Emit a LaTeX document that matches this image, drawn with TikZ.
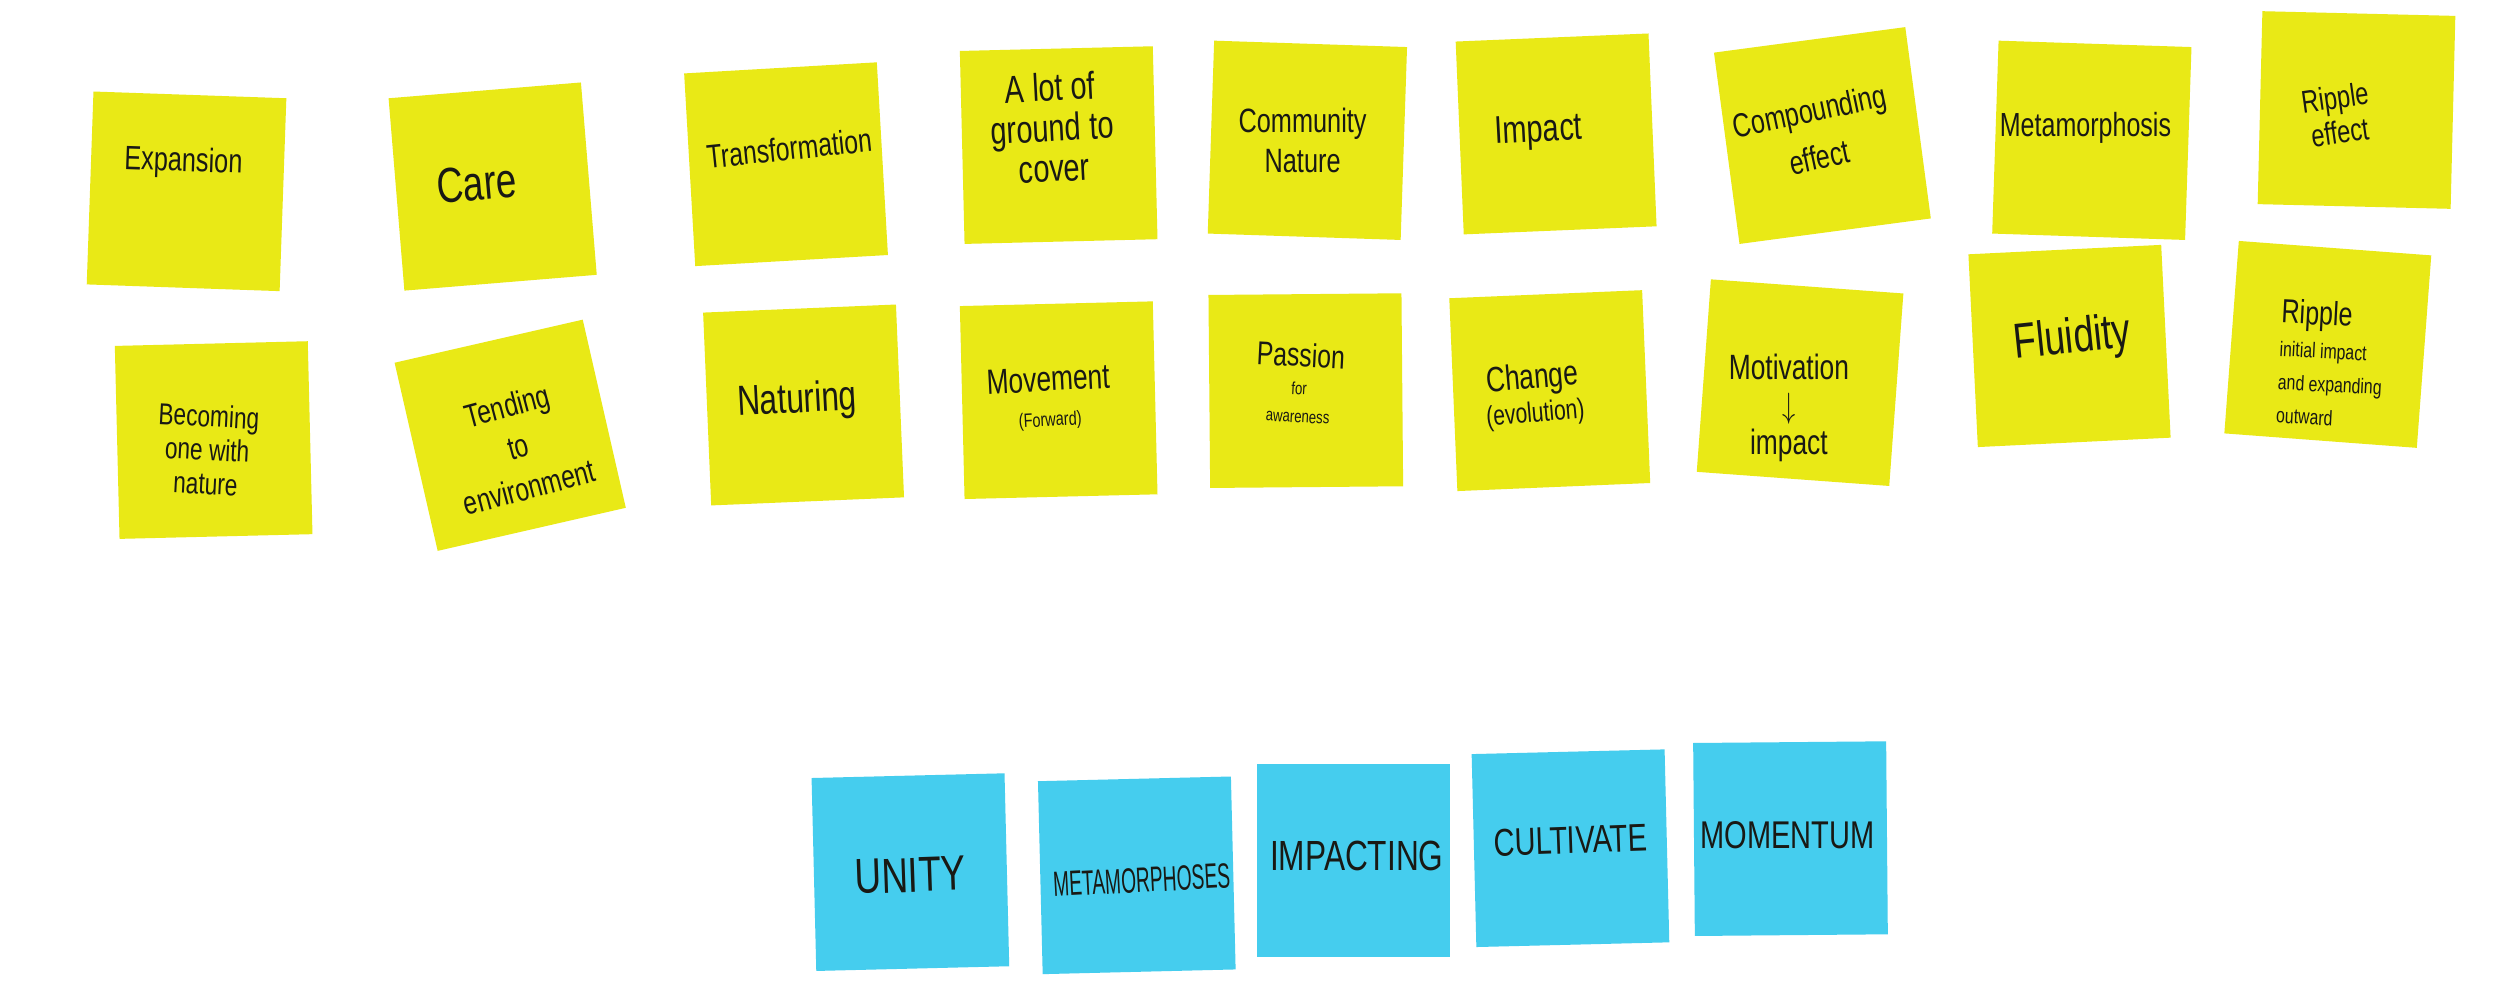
\documentclass[tikz,border=0pt]{standalone}
\usepackage{fontspec}
\setmainfont{Liberation Sans}
\usepackage{tikz}
\definecolor{postit}{RGB}{233,233,22}
\definecolor{postitblue}{RGB}{69,205,238}
\definecolor{ink}{RGB}{25,25,20}

\begin{document}
\begin{tikzpicture}[x=0.15944mm, y=-0.15944mm,
        note/.style={fill=postit, minimum size=19.3mm, inner sep=0pt},
        bluenote/.style={note, fill=postitblue},
        hand/.style={text=ink, xscale=0.75, align=center, inner sep=0pt}]
        \fill[white] (0, 0) rectangle (1568, 626);
        \useasboundingbox (0, 0) rectangle (1568, 626);

        \node[note, rotate=-2](Y1) at (117, 120) {};
        \node[note, rotate=4.7](Y2) at (309, 117) {};
        \node[note, rotate=3.3](Y3) at (493, 103) {};
        \node[note, rotate=1.4](Y4) at (664, 91) {};
        \node[note, rotate=-1.9](Y5) at (820, 88) {};
        \node[note, rotate=2.4](Y6) at (976, 84) {};
        \node[note, rotate=7.6](Y7) at (1143, 85) {};
        \node[note, rotate=-1.9](Y8) at (1312, 88) {};
        \node[note, rotate=-1.4](Y9) at (1478, 69) {};

        \node[note, rotate=1.4](Y10) at (134, 276) {};
        \node[note, rotate=12.9](Y11) at (320, 273) {};
        \node[note, rotate=2.4](Y12) at (504, 254) {};
        \node[note, rotate=1.4](Y13) at (664, 251) {};
        \node[note, rotate=0.5](Y14) at (819, 245) {};
        \node[note, rotate=2.4](Y15) at (972, 245) {};
        \node[note, rotate=-4.2](Y16) at (1129, 240) {};
        \node[note, rotate=2.8](Y17) at (1298, 217) {};
        \node[note, rotate=-4.3](Y18) at (1460, 216) {};

        \node[bluenote, rotate=1.4](B1) at (571, 547) {};
        \node[bluenote, rotate=1.4](B2) at (713, 549) {};
        \node[bluenote](B3) at (849, 540) {};
        \node[bluenote, rotate=1.4](B4) at (985, 532) {};
        \node[bluenote, rotate=0.5](B5) at (1123, 526) {};

        \node[rotate=-2, hand, font=\fontsize{9.6}{11}\selectfont](Y1t) at (115, 102) {Expansion};
        \node[rotate=5, hand, font=\fontsize{14}{15}\selectfont](Y2t) at (299, 115) {Care};
        \node[rotate=6, hand, font=\fontsize{9.4}{11}\selectfont](Y3t) at (495, 93) {Transformation};
        \node[rotate=3, hand, font=\fontsize{11}{11.5}\selectfont](Y4t) at (660, 80) {A lot of\\ground to\\cover};
        \node[hand, font=\fontsize{9.6}{11.3}\selectfont](Y5t) at (817, 88) {Community\\Nature};
        \node[rotate=3, hand, font=\fontsize{11}{12}\selectfont](Y6t) at (965, 83) {Impact};
        \node[rotate=12, hand, font=\fontsize{9.5}{13.5}\selectfont](Y7t) at (1138, 84) {Compounding\\effect};
        \node[hand, font=\fontsize{9.5}{11}\selectfont](Y8t) at (1308, 80) {Metamorphosis};
        \node[rotate=8, hand, font=\fontsize{9}{10}\selectfont](Y9t) at (1466, 72) {Ripple\\effect};

        \node[rotate=-3, hand, font=\fontsize{8.6}{9.6}\selectfont](Y10t) at (130, 282) {Becoming\\one with\\nature};
        \node[rotate=15, hand, font=\fontsize{9.3}{12}\selectfont](Y11t) at (325, 280) {Tending\\to\\environment};
        \node[rotate=3, hand, font=\fontsize{12}{13}\selectfont](Y12t) at (500, 252) {Naturing};
        \node[rotate=3, hand, font=\fontsize{10}{10}\selectfont](Y13t) at (658, 250) {Movement\\{\fontsize{5.5}{6}\selectfont (Forward)}};
        \node[rotate=-3, hand, font=\fontsize{9.4}{8}\selectfont](Y14t) at (815, 240) {Passion\\{\fontsize{5}{6}\selectfont for}\\{\fontsize{5}{6}\selectfont awareness}};
        \node[rotate=5, hand, font=\fontsize{10}{9.5}\selectfont](Y15t) at (962, 248) {Change\\{\fontsize{8}{8.5}\selectfont (evolution)}};
        \node[hand, font=\fontsize{10}{10.6}\selectfont](Y16t) at (1122, 256) {Motivation\\$\downarrow$\\impact};
        \node[rotate=6, hand, font=\fontsize{14}{15}\selectfont](Y17t) at (1300, 213) {Fluidity};
        \node[rotate=-3, hand, align=left, font=\fontsize{9.5}{9.5}\selectfont](Y18t) at (1462, 228) {Ripple\\{\fontsize{6}{6.6}\selectfont initial impact}\\{\fontsize{6}{6.6}\selectfont and expanding}\\{\fontsize{6}{6.6}\selectfont outward}};

        \node[rotate=2, hand, font=\fontsize{14}{15}\selectfont](B1t) at (571, 549) {UNITY};
        \node[rotate=3, hand, xscale=0.73, font=\fontsize{10}{11}\selectfont](B2t) at (716, 552) {METAMORPHOSES};
        \node[hand, font=\fontsize{12}{13}\selectfont](B3t) at (851, 537) {IMPACTING};
        \node[rotate=2, hand, font=\fontsize{11}{12}\selectfont](B4t) at (985, 527) {CULTIVATE};
        \node[hand, font=\fontsize{11}{12}\selectfont](B5t) at (1121, 524) {MOMENTUM};
      \end{tikzpicture}
\end{document}
